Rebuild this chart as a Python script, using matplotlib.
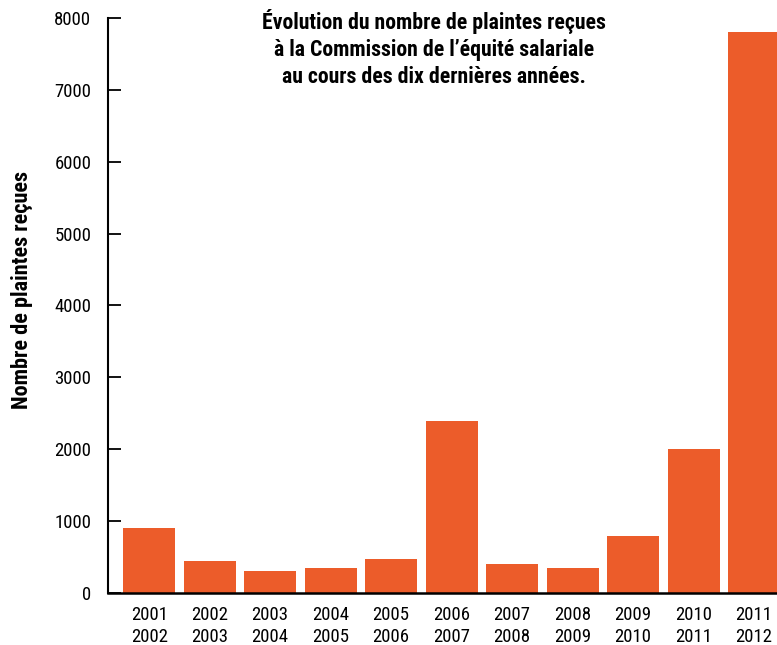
import matplotlib
matplotlib.use("Agg")
import matplotlib.pyplot as plt
import matplotlib.font_manager as fm
import numpy as np

# data
periods_start = ["2001", "2002", "2003", "2004", "2005", "2006",
                 "2007", "2008", "2009", "2010", "2011"]
periods_end = ["2002", "2003", "2004", "2005", "2006", "2007",
               "2008", "2009", "2010", "2011", "2012"]
plaintes = [900, 450, 300, 350, 480, 2400, 400, 350, 800, 2000, 7800]
yticks = [0, 1000, 2000, 3000, 4000, 5000, 6000, 7000, 8000]

title = ("Évolution du nombre de plaintes reçues\n"
         "à la Commission de l’équité salariale\n"
         "au cours des dix dernières années.")
ylabel = "Nombre de plaintes reçues"

# pick a condensed face if one is installed
names = {f.name for f in fm.fontManager.ttflist}
family = "DejaVu Sans"
stretch = "normal"
for cand in ["Roboto Condensed", "Liberation Sans Narrow", "Open Sans Condensed",
             "Noto Sans Condensed", "DejaVu Sans Condensed"]:
    if cand in names:
        family = cand
        break
else:
    if any(f.name == "DejaVu Sans" and f.stretch == "condensed" for f in fm.fontManager.ttflist):
        stretch = "condensed"

plt.rcParams["font.family"] = [family]
plt.rcParams["font.stretch"] = stretch

fig = plt.figure(figsize=(7.77, 6.45), dpi=100)
ax = fig.add_axes([108 / 777, 1 - 593 / 645, 1 - 108 / 777, (593 - 18) / 645])

x = np.arange(len(plaintes))
ax.bar(x, plaintes, width=0.86, color="#EC5C2A", zorder=2)

ax.set_xlim(-0.68, 10.38)
ax.set_ylim(0, 8000)
ax.set_yticks(yticks)
ax.set_yticklabels([str(t) for t in yticks], fontsize=13.5)
ax.set_xticks(x)
ax.set_xticklabels([f"{a}\n{b}" for a, b in zip(periods_start, periods_end)],
                   fontsize=13.5, linespacing=1.35)

ax.tick_params(axis="y", direction="in", length=9, width=1.3, pad=12)
ax.tick_params(axis="x", length=0, pad=9)

for s in ["top", "right"]:
    ax.spines[s].set_visible(False)
ax.spines["left"].set_linewidth(1.5)
ax.spines["bottom"].set_linewidth(1.8)

fig.text(22 / 777, 1 - 290 / 645, ylabel, rotation=90, fontsize=16,
         fontweight="bold", ha="center", va="center")
fig.text(434 / 777, 1 - 9 / 645, title, fontsize=15.7, fontweight="bold",
         ha="center", va="top", linespacing=1.3)

fig.savefig("out.png", dpi=100)
